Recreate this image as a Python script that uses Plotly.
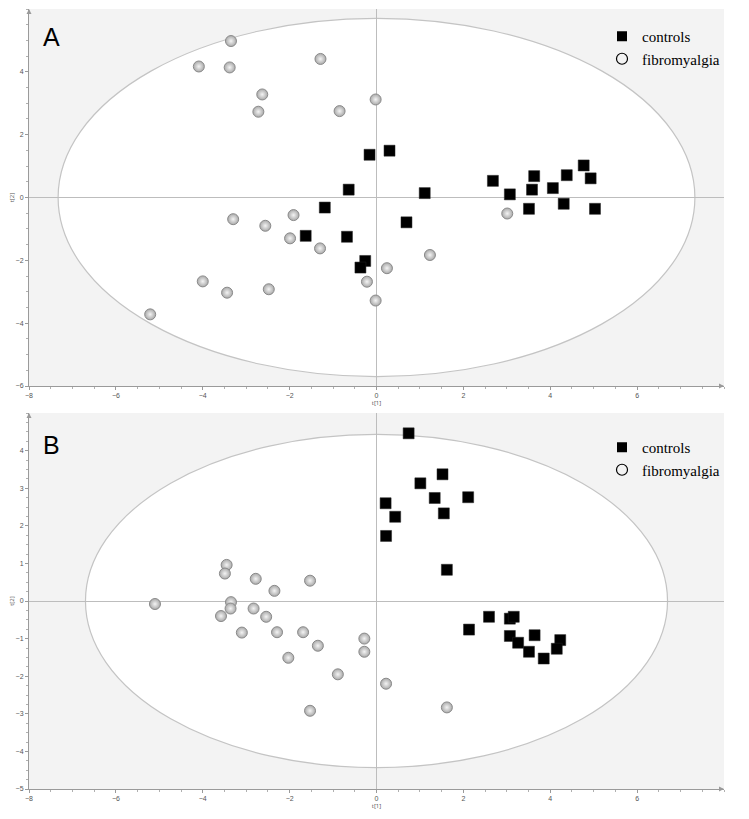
import plotly.graph_objects as go
from plotly.subplots import make_subplots

# ---------------- data: panel A ----------------
a_ctrl_x = [-0.16, -0.64, -1.19, -1.63, -0.68, -0.26, -0.37, 0.30, 1.11, 0.69,
            2.68, 3.07, 3.63, 3.58, 3.51, 4.06, 4.38, 4.31, 4.77, 4.93, 5.03]
a_ctrl_y = [1.36, 0.25, -0.32, -1.22, -1.25, -2.02, -2.23, 1.49, 0.14, -0.79,
            0.53, 0.10, 0.68, 0.25, -0.36, 0.30, 0.71, -0.20, 1.02, 0.61, -0.36]
a_fm_x = [-3.35, -4.09, -3.38, -1.29, -2.63, -2.72, -0.85, -0.02, -3.30, -2.56,
          -1.91, -1.99, -1.30, -4.00, -3.44, -2.48, -5.21, -0.22, -0.02, 0.24,
          1.23, 3.01]
a_fm_y = [4.98, 4.17, 4.14, 4.41, 3.28, 2.73, 2.75, 3.12, -0.69, -0.90,
          -0.56, -1.30, -1.62, -2.67, -3.03, -2.92, -3.72, -2.68, -3.28, -2.25,
          -1.83, -0.51]

# ---------------- data: panel B ----------------
b_ctrl_x = [0.74, 1.01, 1.52, 1.34, 2.11, 0.21, 0.43, 1.55, 0.22, 1.62,
            2.59, 2.13, 3.07, 3.16, 3.07, 3.26, 3.64, 3.51, 3.85, 4.23, 4.15]
b_ctrl_y = [4.46, 3.13, 3.37, 2.74, 2.76, 2.60, 2.24, 2.33, 1.73, 0.83,
            -0.42, -0.76, -0.47, -0.42, -0.93, -1.11, -0.91, -1.35, -1.53, -1.04, -1.27]
b_fm_x = [-5.10, -3.45, -3.49, -3.35, -3.36, -3.58, -3.10, -2.78, -2.83, -2.35,
          -2.54, -2.29, -2.03, -1.69, -1.53, -1.35, -0.89, -1.53, -0.28, -0.28,
          0.22, 1.62]
b_fm_y = [-0.08, 0.96, 0.73, -0.03, -0.20, -0.40, -0.84, 0.59, -0.20, 0.27,
          -0.42, -0.83, -1.51, -0.83, 0.54, -1.19, -1.95, -2.92, -1.00, -1.35,
          -2.20, -2.83]

# Hotelling T2 ellipse semi-axes (t[1], t[2])
a_ellipse = (7.33, 5.70)
b_ellipse = (6.70, 4.43)

# axis ranges / ticks
x_range = [-8, 8]
a_y_range = [-6, 6]
b_y_range = [-5, 5]
x_ticks = [-8, -6, -4, -2, 0, 2, 4, 6]
a_y_ticks = [-6, -4, -2, 0, 2, 4]
b_y_ticks = [-5, -4, -3, -2, -1, 0, 1, 2, 3, 4]

panel_labels = ["A", "B"]
group_names = ["controls", "fibromyalgia"]

# page has an 8px body margin; size figure so plot lands at the same page pixels
OFF = 8
W, H = 749 - OFF, 819 - OFF
mt, mb, ml, mr = 9 - OFF, 30, 29 - OFF, 25
ph = H - mt - mb
pw = W - ml - mr
a_top_px, a_bot_px = 9, 386
b_top_px, b_bot_px = 413, 789
def frac(py):
    return (H - mb - (py - OFF)) / ph
def xfrac(px):
    return (px - OFF - ml) / pw

fig = make_subplots(rows=2, cols=1)
fig.update_layout(
    yaxis=dict(domain=[frac(a_bot_px), frac(a_top_px)]),
    yaxis2=dict(domain=[frac(b_bot_px), frac(b_top_px)]),
)

ctrl_marker = dict(symbol="square", size=11, color="#000000",
                   line=dict(width=0.5, color="#222222"))
fm_marker = dict(symbol="circle", size=11, color="#a9a9a9",
                 gradient=dict(type="radial", color="#f4f4f4"),
                 line=dict(width=1, color="#8a8a8a"))

panels = [
    (1, a_ctrl_x, a_ctrl_y, a_fm_x, a_fm_y, "legend"),
    (2, b_ctrl_x, b_ctrl_y, b_fm_x, b_fm_y, "legend2"),
]
for row, cx, cy, fx, fy, lg in panels:
    fig.add_trace(go.Scatter(x=fx, y=fy, mode="markers", marker=fm_marker,
                             name=group_names[1], showlegend=False), row=row, col=1)
    fig.add_trace(go.Scatter(x=cx, y=cy, mode="markers", marker=ctrl_marker,
                             name=group_names[0], showlegend=False), row=row, col=1)
    # legend entries
    fig.add_trace(go.Scatter(x=[None], y=[None], mode="markers",
                             marker=dict(symbol="square", size=10, color="black"),
                             name=group_names[0], legend=lg), row=row, col=1)
    fig.add_trace(go.Scatter(x=[None], y=[None], mode="markers",
                             marker=dict(symbol="circle-open", size=11, color="black",
                                         line=dict(width=1.2)),
                             name=group_names[1], legend=lg), row=row, col=1)

# ellipses
for (a, b), xr, yr in [(a_ellipse, "x", "y"), (b_ellipse, "x2", "y2")]:
    fig.add_shape(type="circle", xref=xr, yref=yr, x0=-a, x1=a, y0=-b, y1=b,
                  fillcolor="white", line=dict(color="#c4c4c4", width=1.2),
                  layer="below")

axis_common = dict(showgrid=False, zeroline=True, zerolinecolor="#bdbdbd",
                   zerolinewidth=1.2, showline=True, linecolor="#9a9a9a",
                   linewidth=1, ticks="outside", ticklen=3, tickcolor="#9a9a9a",
                   automargin=False,
                   tickfont=dict(size=7, color="#555555", family="Liberation Sans"),
                   minor=dict(ticks="outside", ticklen=2, tickcolor="#b0b0b0"))

fig.update_xaxes(range=x_range, tickvals=x_ticks, **axis_common)
fig.update_xaxes(minor_dtick=0.5)
fig.update_xaxes(title=dict(text="t[1]", font=dict(size=6, color="#555555"), standoff=0))
fig.update_yaxes(title=dict(text="t[2]", font=dict(size=6, color="#555555"), standoff=0))
fig.update_yaxes(range=a_y_range, tickvals=a_y_ticks, row=1, col=1, **axis_common)
fig.update_yaxes(minor_dtick=0.5, row=1, col=1)
fig.update_yaxes(range=b_y_range, tickvals=b_y_ticks, row=2, col=1, **axis_common)
fig.update_yaxes(minor_dtick=0.25, row=2, col=1)

# panel letters and axis arrows
for lab, xr, yr, yd in [(panel_labels[0], "x domain", "y domain", 0.925),
                        (panel_labels[1], "x2 domain", "y2 domain", 0.915)]:
    fig.add_annotation(text=lab, xref=xr, yref=yr, x=0.033, y=yd,
                       showarrow=False, xanchor="center", yanchor="middle",
                       font=dict(size=25, color="black", family="Liberation Sans"))
    fig.add_annotation(text="", xref=xr, yref=yr, x=1, y=0, ax=-6, ay=0,
                       showarrow=True, arrowhead=2, arrowsize=1, arrowwidth=1,
                       arrowcolor="#9a9a9a")
    fig.add_annotation(text="", xref=xr, yref=yr, x=0, y=1, ax=0, ay=6,
                       showarrow=True, arrowhead=2, arrowsize=1, arrowwidth=1,
                       arrowcolor="#9a9a9a")

legend_style = dict(font=dict(family="Liberation Serif, Times New Roman, serif",
                              size=15, color="black"),
                    bgcolor="rgba(0,0,0,0)", xanchor="left", yanchor="top",
                    itemwidth=30, tracegroupgap=0)
fig.update_layout(
    width=W, height=H,
    margin=dict(l=ml, r=mr, t=mt, b=mb, autoexpand=False),
    paper_bgcolor="white",
    plot_bgcolor="#f3f3f3",
    showlegend=True,
    legend=dict(x=xfrac(602), y=frac(20), **legend_style),
    legend2=dict(x=xfrac(602), y=frac(431), **legend_style),
)

fig.write_html("out.html")
